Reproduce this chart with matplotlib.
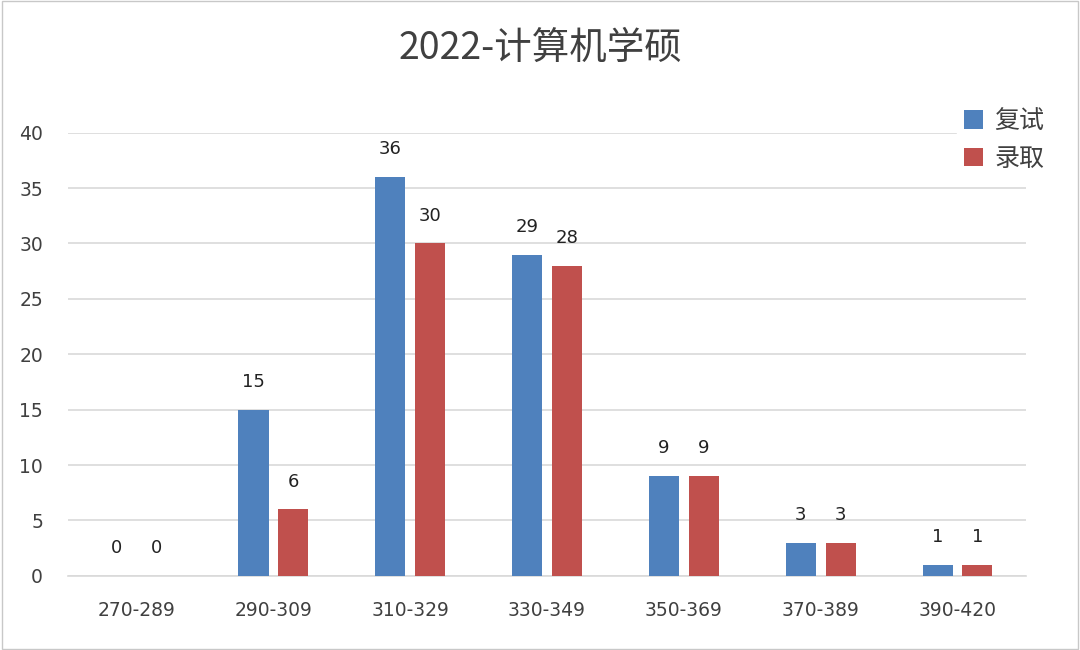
import numpy as np
import matplotlib.pyplot as plt

plt.rcParams['font.family'] = ['Noto Sans CJK SC', 'DejaVu Sans']

categories = ['270-289', '290-309', '310-329', '330-349', '350-369', '370-389', '390-420']
retest = [0, 15, 36, 29, 9, 3, 1]
admitted = [0, 6, 30, 28, 9, 3, 1]

blue = '#4F81BD'
red = '#C0504D'
txt = '#404040'
num_font = ['DejaVu Sans', 'Noto Sans CJK SC']

fig = plt.figure(figsize=(10.8, 6.5), dpi=100)
ax = fig.add_axes([0.063, 0.114, 0.887, 0.682])

x = np.arange(len(categories))
w = 0.22
off = 0.145
b1 = ax.bar(x - off, retest, w, color=blue, label='复试', zorder=3)
b2 = ax.bar(x + off, admitted, w, color=red, label='录取', zorder=3)

for bars, vals in ((b1, retest), (b2, admitted)):
    for r, v in zip(bars, vals):
        ax.text(r.get_x() + r.get_width() / 2, v + 1.7, str(v),
                ha='center', va='bottom', fontsize=13, color='#222222',
                family=num_font)

ax.set_xlim(-0.5, len(categories) - 0.5)
ax.set_ylim(0, 40)
ax.set_yticks(range(0, 41, 5))
ax.set_xticks(x)
ax.set_xticklabels(categories)
ax.tick_params(axis='both', length=0, labelsize=13.5, colors=txt)
ax.tick_params(axis='x', pad=18)
ax.tick_params(axis='y', pad=18)
for lab in ax.get_xticklabels() + ax.get_yticklabels():
    lab.set_family(num_font)
ax.grid(axis='y', color='#D9D9D9', linewidth=1.2, zorder=0)
for s in ['top', 'right', 'left']:
    ax.spines[s].set_visible(False)
ax.spines['bottom'].set_color('#D9D9D9')
ax.spines['bottom'].set_linewidth(1.2)

leg = ax.legend(loc='upper right', bbox_to_anchor=(1.04, 1.1), frameon=True,
                facecolor='white', edgecolor='white', framealpha=1,
                fontsize=18, handlelength=0.75, handleheight=0.75,
                labelspacing=0.45, handletextpad=0.45, borderpad=0.3)
for t in leg.get_texts():
    t.set_color(txt)

fig.text(0.5, 0.925, '2022-计算机学硕', ha='center', va='center',
         fontsize=27, color=txt)

fig.patches.append(plt.Rectangle((0.002, 0.002), 0.996, 0.996, transform=fig.transFigure,
                                 fill=False, edgecolor='#C8C8C8', linewidth=1))

fig.savefig('out.png', dpi=100)
